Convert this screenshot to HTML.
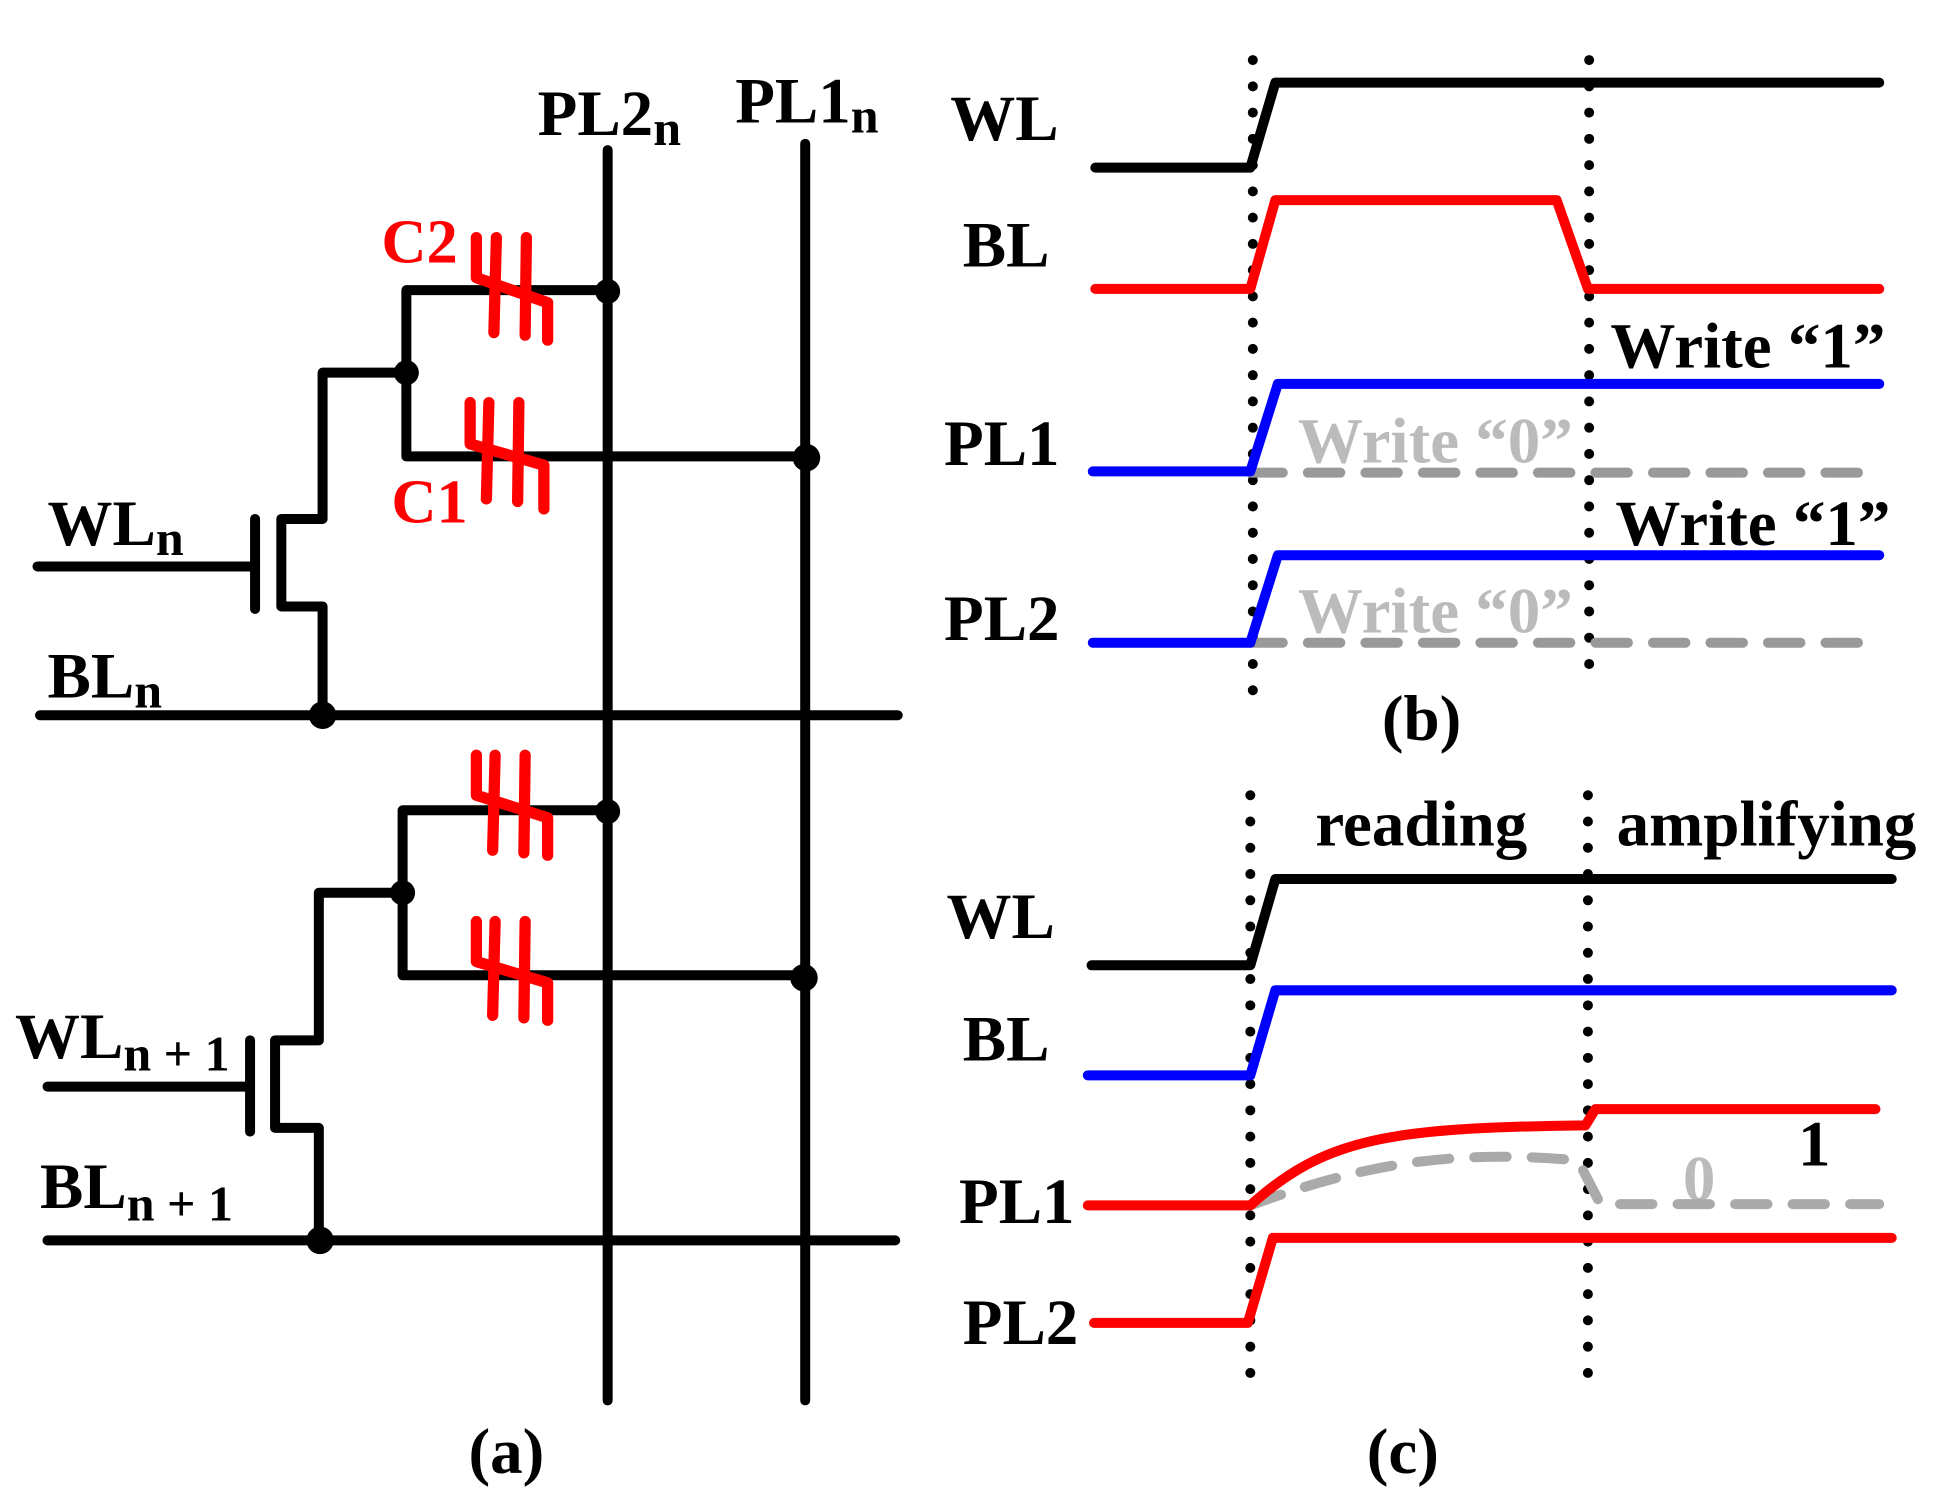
<!DOCTYPE html>
<html><head><meta charset="utf-8"><style>html,body{margin:0;padding:0;background:#fff}svg{display:block}text{font-family:"Liberation Serif",serif;font-weight:bold}</style></head>
<body>
<svg width="1938" height="1488" viewBox="0 0 1550 1190" xmlns="http://www.w3.org/2000/svg">
<g fill="none" stroke="#000" stroke-width="8" stroke-linecap="round" stroke-linejoin="round">
<line x1="486" y1="120" x2="486" y2="1120"/>
<line x1="644" y1="115" x2="644" y2="1120"/>
<line x1="32" y1="572" x2="718" y2="572"/>
<line x1="38" y1="992" x2="716" y2="992"/>
<polyline points="486,232 325,232 325,365 644,365"/>
<polyline points="325,298 258,298 258,415 225,415 225,485 258,485 258,572"/>
<line x1="204" y1="415" x2="204" y2="487"/>
<line x1="30" y1="453" x2="204" y2="453"/>
<polyline points="486,648 322,648 322,780 643,780"/>
<polyline points="322,714 255,714 255,832 220,832 220,902 255,902 255,992"/>
<line x1="200" y1="832" x2="200" y2="905"/>
<line x1="38" y1="869" x2="200" y2="869"/>
</g>
<g fill="#000">
<circle cx="486" cy="233" r="10"/><circle cx="325" cy="298" r="10"/><circle cx="645" cy="366" r="11"/><circle cx="258" cy="572" r="11"/>
<circle cx="486" cy="649" r="10"/><circle cx="322" cy="714" r="10"/><circle cx="643" cy="782" r="11"/><circle cx="256" cy="992" r="11"/>
</g>
<g fill="none" stroke="#f00" stroke-width="9" stroke-linecap="round" stroke-linejoin="round">
<polyline points="381,190 381,222 438,242 438,272"/><line x1="397" y1="190" x2="395" y2="266"/><line x1="421" y1="190" x2="420" y2="268"/>
<polyline points="376,322 376,355 435,372 435,407"/><line x1="391" y1="322" x2="389" y2="399"/><line x1="415" y1="322" x2="414" y2="401"/>
<polyline points="381,604 381,636 438,654 438,684"/><line x1="396" y1="604" x2="394" y2="680"/><line x1="420" y1="604" x2="419" y2="682"/>
<polyline points="381,737 381,769 438,786 438,816"/><line x1="396" y1="737" x2="394" y2="812"/><line x1="420" y1="737" x2="419" y2="814"/>
</g>
<g font-size="52" fill="#000">
<text x="430" y="108">PL2<tspan font-size="40" dy="8">n</tspan></text>
<text x="588" y="98">PL1<tspan font-size="40" dy="8">n</tspan></text>
<text x="38" y="436">WL<tspan font-size="40" dy="8">n</tspan></text>
<text x="38" y="558">BL<tspan font-size="40" dy="8">n</tspan></text>
<text x="12" y="846">WL<tspan font-size="40" dy="10">n + 1</tspan></text>
<text x="32" y="966">BL<tspan font-size="40" dy="10">n + 1</tspan></text>
<text x="405" y="1178" text-anchor="middle">(a)</text>
<text x="1137" y="592" text-anchor="middle">(b)</text>
<text x="1122" y="1178" text-anchor="middle">(c)</text>
<text x="760" y="112">WL</text><text x="770" y="213">BL</text><text x="755" y="372">PL1</text><text x="755" y="512">PL2</text>
<text x="757" y="750">WL</text><text x="770" y="848">BL</text><text x="767" y="978">PL1</text><text x="770" y="1075">PL2</text>
<text x="1288" y="294">Write “1”</text><text x="1292" y="436">Write “1”</text>
<text x="1052" y="676">reading</text><text x="1293" y="676">amplifying</text>
<text x="1438" y="932">1</text>
</g>
<g font-size="52" fill="#bbb"><text x="1038" y="370">Write “0”</text><text x="1038" y="506">Write “0”</text><text x="1346" y="960">0</text></g>
<g fill="#f00" font-size="50"><text x="305" y="210">C2</text><text x="313" y="418">C1</text></g>
<g stroke="#000" stroke-width="8" stroke-linecap="round" stroke-dasharray="0 21" fill="none">
<line x1="1002" y1="48" x2="1002" y2="560"/><line x1="1271" y1="48" x2="1271" y2="550"/>
<line x1="1000" y1="636" x2="1000" y2="1110"/><line x1="1270" y1="636" x2="1270" y2="1110"/>
</g>
<g fill="none" stroke-width="8" stroke-linecap="round" stroke-linejoin="round">
<polyline stroke="#999" stroke-dasharray="26 20" points="1000,378 1503,378"/>
<polyline stroke="#999" stroke-dasharray="26 20" points="1000,514 1503,514"/>
<path stroke="#aaa" stroke-dasharray="26 20" d="M1000,964 C1080,935 1150,918 1262,928 L1280,963 L1503,963"/>
<polyline stroke="#000" points="876,134 1000,134 1020,66 1503,66"/>
<polyline stroke="#f00" points="876,231 1000,231 1020,160 1245,160 1270,231 1503,231"/>
<polyline stroke="#00f" points="874,377 1000,377 1022,307 1503,307"/>
<polyline stroke="#00f" points="874,514 1000,514 1022,444 1503,444"/>
<polyline stroke="#000" points="873,772 1000,772 1020,703 1513,703"/>
<polyline stroke="#00f" points="870,860 1000,860 1020,792 1513,792"/>
<path stroke="#f00" d="M870,964 L1000,964 C1060,910 1110,902 1268,900 L1276,887 L1500,887"/>
<polyline stroke="#f00" points="875,1058 998,1058 1018,990 1513,990"/>
</g>
</svg>
</body></html>
